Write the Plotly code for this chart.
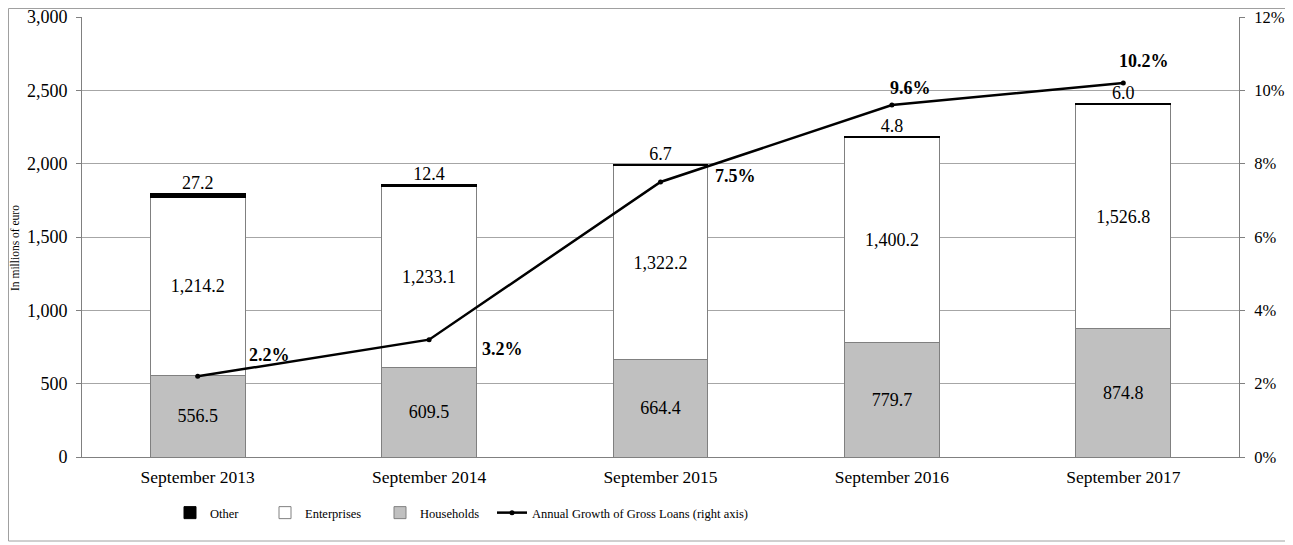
import plotly.graph_objects as go

categories = ["September 2013", "September 2014", "September 2015", "September 2016", "September 2017"]
households = [556.5, 609.5, 664.4, 779.7, 874.8]
enterprises = [1214.2, 1233.1, 1322.2, 1400.2, 1526.8]
other = [27.2, 12.4, 6.7, 4.8, 6.0]
growth = [2.2, 3.2, 7.5, 9.6, 10.2]

FONT = "Liberation Serif, Times New Roman, serif"
EDGE = "#808080"
GRID = "#a6a6a6"

# page has an 8px body margin; figure sized so the plot area lands at page px 82..1239 x 17..457
OFF = 8
W, H = 1285, 537
L, R, T, B = 74, 54, 9, 88
PW, PH = W - L - R, H - T - B

def px_x(p):
    return (p - OFF - L) / PW

def px_y(p):
    return (OFF + T + PH - p) / PH

def fmt(v):
    return f"{v:,.1f}"

fig = go.Figure()
fig.add_trace(go.Bar(
    x=categories, y=households, name="Households", legend="legend3",
    marker=dict(color="#c0c0c0", line=dict(color=EDGE, width=1)),
    text=[fmt(v) for v in households], textposition="inside", insidetextanchor="middle",
    textfont=dict(family=FONT, size=18, color="black"), textangle=0,
))
fig.add_trace(go.Bar(
    x=categories, y=enterprises, name="Enterprises", legend="legend2",
    marker=dict(color="white", line=dict(color=EDGE, width=1)),
    text=[fmt(v) for v in enterprises], textposition="inside", insidetextanchor="middle",
    textfont=dict(family=FONT, size=18, color="black"), textangle=0,
))
fig.add_trace(go.Bar(
    x=categories, y=other, name="Other", legend="legend",
    marker=dict(color="black", line=dict(color="black", width=1)),
))
totals = [h + e + o for h, e, o in zip(households, enterprises, other)]
fig.add_trace(go.Scatter(
    x=categories, y=totals, mode="text", text=[fmt(v) for v in other],
    textposition="top center", textfont=dict(family=FONT, size=18, color="black"),
    showlegend=False, hoverinfo="skip", cliponaxis=False,
))
fig.add_trace(go.Scatter(
    x=categories, y=growth, name="Annual Growth of Gross Loans (right axis)",
    mode="lines+markers", yaxis="y2", legend="legend4",
    line=dict(color="black", width=2.5), marker=dict(size=5, color="black"),
))

shifts = [(72, 21), (73, -9), (75, 6), (19, 17), (21, 22)]
for c, g, (dx, dy) in zip(categories, growth, shifts):
    fig.add_annotation(x=c, y=g, yref="y2", text=f"<b>{g:.1f}%</b>", showarrow=False,
                       xshift=dx, yshift=dy, font=dict(family=FONT, size=18, color="black"))

fig.add_annotation(x=px_x(15), y=px_y(248), xref="paper", yref="paper", text="In millions of euro",
                   textangle=-90, showarrow=False, xanchor="center", yanchor="middle",
                   font=dict(family=FONT, size=11.5, color="black"))

fig.add_shape(type="rect", xref="paper", yref="paper", x0=px_x(8.5), x1=px_x(1290), y0=px_y(541), y1=px_y(8.5),
              line=dict(color="#a0a0a0", width=1), fillcolor="rgba(0,0,0,0)", layer="below")

leg_common = dict(orientation="h", xanchor="left", yanchor="middle", y=px_y(513),
                  bgcolor="rgba(0,0,0,0)", font=dict(family=FONT, size=12.5, color="black"),
                  itemwidth=30)
fig.update_layout(
    width=W, height=H, barmode="stack", bargap=0.59,
    plot_bgcolor="white", paper_bgcolor="white",
    margin=dict(l=L, r=R, t=T, b=B, autoexpand=False),
    font=dict(family=FONT, size=17, color="black"),
    xaxis=dict(showline=True, linecolor=EDGE, ticks="", tickfont=dict(size=17.5), automargin=False,
               ticklabelstandoff=4),
    yaxis=dict(range=[0, 3000], dtick=500, tickformat=",", showgrid=True, gridcolor=GRID,
               showline=True, linecolor=EDGE, ticks="outside", ticklen=5, tickcolor=EDGE,
               tickfont=dict(size=18), zeroline=False, automargin=False,
               ticklabeloverflow="allow", ticklabelstandoff=5),
    yaxis2=dict(range=[0, 12], dtick=2, ticksuffix="%", overlaying="y", side="right",
                showgrid=False, showline=True, linecolor=EDGE, ticks="outside", ticklen=5,
                tickcolor=EDGE, tickfont=dict(size=16.5), zeroline=False, automargin=False,
                ticklabeloverflow="allow", ticklabelstandoff=6),
    legend=dict(x=px_x(170), **leg_common),
    legend2=dict(x=px_x(265), **leg_common),
    legend3=dict(x=px_x(380), **leg_common),
    legend4=dict(x=px_x(492), **leg_common),
    showlegend=True,
)

fig.write_html("out.html")
